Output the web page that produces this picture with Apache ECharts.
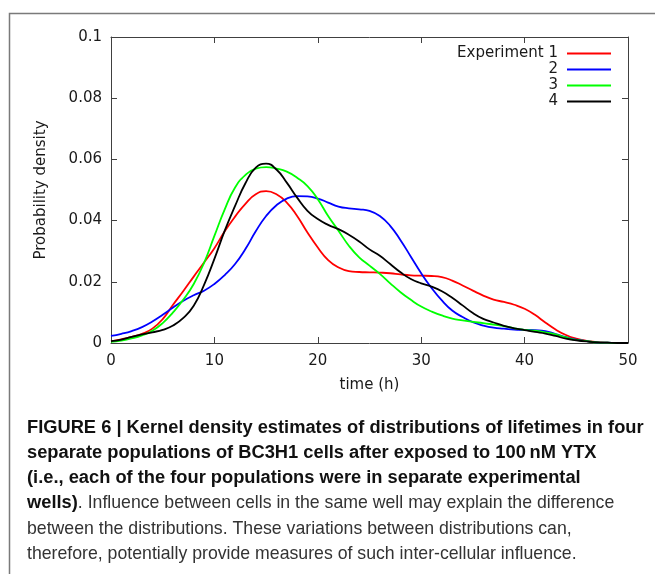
<!DOCTYPE html>
<html>
<head>
<meta charset="utf-8">
<script src="https://cdn.jsdelivr.net/npm/echarts@6/dist/echarts.min.js"></script>
<style>
html,body{margin:0;padding:0;background:#fff;}
#chart{width:655px;height:574px;}
</style>
</head>
<body>
<div id="chart"></div>
<script>
// time (h)
const times = [0,1,2,3,4,5,6,7,8,9,10,11,12,13,14,15,16,17,18,19,20,21,22,23,24,25,26,27,28,29,30,31,32,33,34,35,36,37,38,39,40,41,42,43,44,45,46,47,48,49,50];
const seriesNames = ['Experiment 1', '2', '3', '4'];
const exp1 = [0.0005,0.0012,0.002,0.003,0.0047,0.0078,0.0125,0.017,0.0217,0.0263,0.031,0.0365,0.0413,0.0455,0.0486,0.0496,0.0486,0.0459,0.0415,0.0361,0.0312,0.0271,0.0247,0.0235,0.0232,0.0231,0.023,0.0228,0.0224,0.0221,0.022,0.0219,0.0215,0.0204,0.0188,0.0171,0.0155,0.0142,0.0134,0.0125,0.0112,0.0092,0.0067,0.0044,0.0026,0.0014,0.0007,0.0003,0.0001,0,0];
const exp2 = [0.0023,0.003,0.0039,0.0052,0.007,0.0092,0.0116,0.0138,0.0156,0.0171,0.0193,0.0222,0.0258,0.0307,0.0365,0.0415,0.045,0.0472,0.048,0.0479,0.0472,0.0459,0.0446,0.044,0.0437,0.0432,0.0415,0.0383,0.0336,0.0282,0.0228,0.018,0.0139,0.0106,0.0085,0.0068,0.0057,0.005,0.0047,0.0044,0.0043,0.0042,0.0039,0.0029,0.0019,0.0011,0.0006,0.0002,0.0001,0,0];
const exp3 = [0.0004,0.0008,0.0015,0.0025,0.004,0.0065,0.01,0.0142,0.0193,0.0262,0.035,0.0437,0.0508,0.0549,0.057,0.0575,0.057,0.056,0.054,0.0513,0.047,0.0415,0.0367,0.0318,0.028,0.0253,0.0226,0.0195,0.0166,0.0141,0.0119,0.0103,0.009,0.008,0.0074,0.0069,0.0065,0.006,0.0055,0.0048,0.0043,0.004,0.0035,0.0028,0.0018,0.001,0.0006,0.0002,0.0001,0,0];
const exp4 = [0.0006,0.0011,0.002,0.0028,0.0035,0.0043,0.0057,0.0082,0.0122,0.019,0.0275,0.0367,0.0448,0.0522,0.0573,0.0586,0.0567,0.0524,0.0475,0.0432,0.0405,0.0386,0.0372,0.0354,0.0332,0.0306,0.0285,0.0258,0.0231,0.0209,0.0195,0.0184,0.0169,0.0148,0.0123,0.0098,0.0079,0.0067,0.0056,0.0048,0.0042,0.0036,0.0031,0.0023,0.0014,0.0009,0.0005,0.0002,0.0001,0,0];
const colors = ['#ff0000', '#0000ff', '#00ff00', '#000000'];
const xTicks = {min: 0, max: 50, interval: 10};
const yTicks = {min: 0, max: 0.1, interval: 0.02};
const captionLines = [
  [['b', 'FIGURE 6 | Kernel density estimates of distributions of lifetimes in four']],
  [['b', 'separate populations of BC3H1 cells after exposed to 100\u2009nM YTX']],
  [['b', '(i.e., each of the four populations were in separate experimental']],
  [['b', 'wells)'], ['r', '. Influence between cells in the same well may explain the difference']],
  [['r', 'between the distributions. These variations between distributions can,']],
  [['r', 'therefore, potentially provide measures of such inter-cellular influence.']]
];

const allData = [exp1, exp2, exp3, exp4];
const chart = echarts.init(document.getElementById('chart'), null, {renderer: 'canvas'});
const axisColor = '#404040';
const tickFont = {fontFamily: 'DejaVu Sans', fontSize: 15, color: '#1a1a1a'};

function mkX(pos, show) {
  return {
    type: 'value', position: pos, min: xTicks.min, max: xTicks.max, interval: xTicks.interval,
    axisLine: {show: true, onZero: false, lineStyle: {color: axisColor, width: 1}},
    axisTick: {show: true, inside: true, length: 6, lineStyle: {color: axisColor}},
    axisLabel: Object.assign({show: show, margin: 11}, tickFont),
    splitLine: {show: false},
    name: show ? 'time (h)' : '', nameLocation: 'middle', nameGap: 35,
    nameTextStyle: tickFont
  };
}
function mkY(pos, show) {
  return {
    type: 'value', position: pos, min: yTicks.min, max: yTicks.max, interval: yTicks.interval,
    axisLine: {show: true, onZero: false, lineStyle: {color: axisColor, width: 1}},
    axisTick: {show: true, inside: true, length: 6, lineStyle: {color: axisColor}},
    axisLabel: Object.assign({show: show, margin: 9}, tickFont),
    splitLine: {show: false},
    name: show ? 'Probability density' : '', nameLocation: 'middle', nameGap: 62, nameRotate: 90,
    nameTextStyle: tickFont
  };
}

const legends = seriesNames.map((n, i) => ({
  data: [n], orient: 'vertical', right: 44, top: 46 + i * 16, align: 'right', padding: 0,
  icon: 'rect', itemWidth: 44, itemHeight: 2, selectedMode: false,
  textStyle: {fontFamily: 'DejaVu Sans', fontSize: 15, color: '#1a1a1a', padding: [0, 4, 0, 0]}
}));

const graphics = [
  {type: 'polyline', shape: {points: [[9.5, 574], [9.5, 13.5], [655, 13.5]]}, style: {stroke: '#7a7a7a', lineWidth: 1.5, fill: null}, silent: true}
];
captionLines.forEach((parts, i) => {
  graphics.push({
    type: 'text', left: 27, top: 433.5 - 14 + i * 25.3 - 1, silent: true,
    style: {
      text: parts.map(p => '{' + p[0] + '|' + p[1] + '}').join(''),
      rich: {
        b: {fontFamily: 'Liberation Sans', fontSize: 18.3, fontWeight: 'bold', fill: '#111'},
        r: {fontFamily: 'Liberation Sans', fontSize: 17.7, fontWeight: 'normal', fill: '#333'}
      }
    }
  });
});

chart.setOption({
  animation: false,
  backgroundColor: '#fff',
  grid: {left: 111, right: 27, top: 37, bottom: 231, containLabel: false},
  xAxis: [mkX('bottom', true), mkX('top', false)],
  yAxis: [mkY('left', true), mkY('right', false)],
  legend: legends,
  series: seriesNames.map((n, i) => ({
    name: n, type: 'line', xAxisIndex: 0, yAxisIndex: 0,
    data: times.map((t, k) => [t, allData[i][k]]),
    showSymbol: false, smooth: 0.5,
    lineStyle: {color: colors[i], width: 1.8}, itemStyle: {color: colors[i]}
  })),
  graphic: graphics
});
</script>
</body>
</html>
